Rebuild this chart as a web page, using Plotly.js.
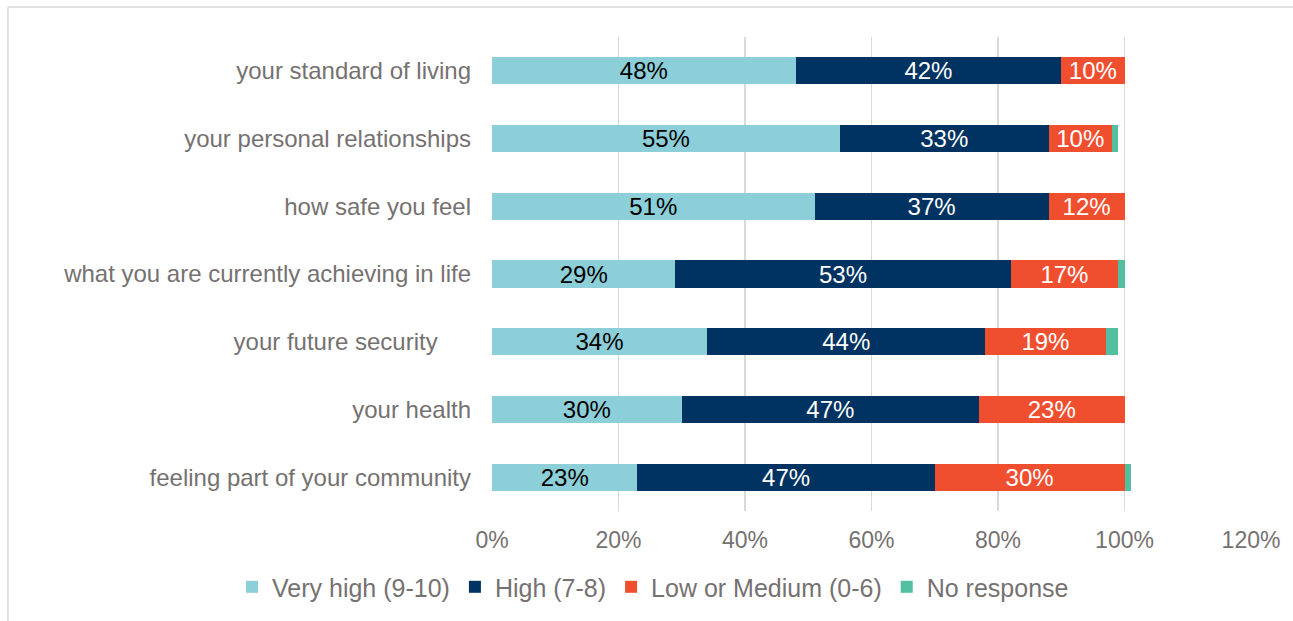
<!DOCTYPE html>
<html>
<head>
<meta charset="utf-8">
<script src="https://cdn.plot.ly/plotly-3.0.1.min.js"></script>
<style>html,body{margin:0;padding:0;background:#fff;}#chart{width:1293px;height:621px;}</style>
</head>
<body>
<div id="chart"></div>
<script>
const categories = [
  "your standard of living",
  "your personal relationships",
  "how safe you feel",
  "what you are currently achieving in life",
  "your future security\u00a0\u00a0\u00a0\u00a0\u00a0",
  "your health",
  "feeling part of your community"
];
const veryHigh = [48, 55, 51, 29, 34, 30, 23];
const high = [42, 33, 37, 53, 44, 47, 47];
const lowMedium = [10, 10, 12, 17, 19, 23, 30];
const noResponse = [0, 1, 0, 1, 2, 0, 1];
const seriesNames = ["Very high (9-10)", "High (7-8)", "Low or Medium (0-6)", "No response"];
const seriesColors = ["#8ccfd8", "#003361", "#f04f2f", "#52bfa1"];
const labelColors = ["#000000", "#ffffff", "#ffffff", "#ffffff"];
const xTicks = [0, 20, 40, 60, 80, 100, 120];

const font = "Liberation Sans, Arial, sans-serif";
const axisColor = "#767171";
const allSeries = [veryHigh, high, lowMedium, noResponse];

const traces = allSeries.map((vals, i) => ({
  type: "bar",
  orientation: "h",
  name: seriesNames[i],
  y: categories,
  x: vals,
  marker: {color: seriesColors[i], line: {width: 0}},
  text: i < 3 ? vals.map(v => v + "%") : undefined,
  textposition: i < 3 ? "inside" : "none",
  insidetextanchor: "middle",
  textangle: 0,
  constraintext: "none",
  insidetextfont: {family: font, size: 24, color: labelColors[i]},
  hoverinfo: "none"
}));

const layout = {
  width: 1293,
  height: 621,
  margin: {l: 492, r: 42, t: 37, b: 109},
  paper_bgcolor: "#ffffff",
  plot_bgcolor: "#ffffff",
  barmode: "stack",
  bargap: 0.6,
  uniformtext: {mode: "show", minsize: 24},
  font: {family: font, size: 24, color: axisColor},
  xaxis: {
    range: [0, 120],
    tickvals: xTicks,
    ticktext: xTicks.map(v => v + "%"),
    showgrid: true,
    gridcolor: "#d9d9d9",
    gridwidth: 1.3,
    zeroline: false,
    showline: false,
    ticks: "",
    tickfont: {family: font, size: 23, color: axisColor},
    ticklabelstandoff: 13,
    fixedrange: true
  },
  yaxis: {
    categoryorder: "array",
    categoryarray: categories.slice().reverse(),
    autorange: true,
    showgrid: false,
    zeroline: false,
    showline: false,
    ticks: "",
    tickfont: {family: font, size: 24, color: axisColor},
    ticklabelstandoff: 20,
    fixedrange: true
  },
  showlegend: true,
  legend: {
    orientation: "h",
    traceorder: "normal",
    xref: "paper",
    yref: "paper",
    x: -0.3425,
    xanchor: "left",
    y: -0.158,
    yanchor: "middle",
    font: {family: font, size: 25, color: axisColor},
    itemwidth: 30,
    bgcolor: "rgba(0,0,0,0)"
  },
  shapes: [
    {type: "line", xref: "paper", yref: "paper", x0: -0.6377, x1: 1.07, y0: 1.0632, y1: 1.0632, line: {color: "#d9d9d9", width: 1.5}},
    {type: "line", xref: "paper", yref: "paper", x0: -0.6377, x1: -0.6377, y0: 1.0632, y1: -0.25, line: {color: "#d9d9d9", width: 1.5}}
  ]
};

Plotly.newPlot("chart", traces, layout, {displayModeBar: false, staticPlot: true});
</script>
</body>
</html>
